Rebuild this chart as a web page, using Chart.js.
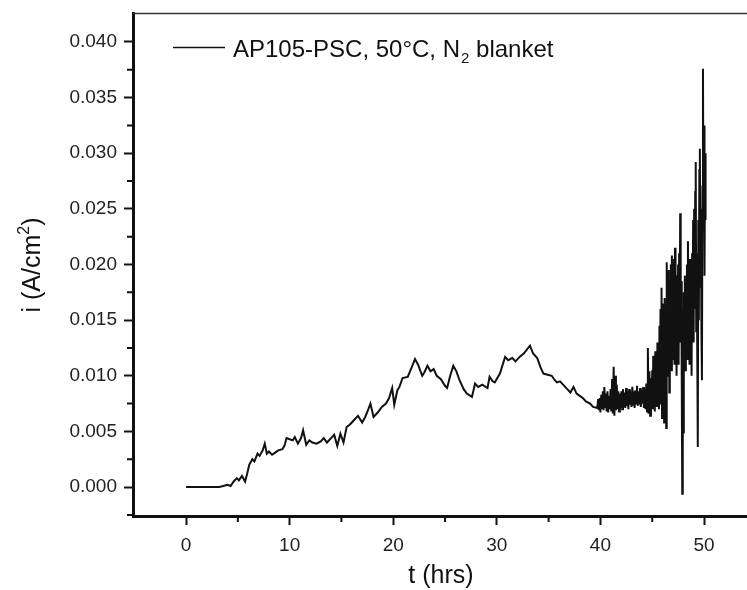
<!DOCTYPE html>
<html>
<head>
<meta charset="utf-8">
<script src="https://cdn.jsdelivr.net/npm/chart.js@4.4.1/dist/chart.umd.min.js"></script>
<style>
html,body{margin:0;padding:0;background:#fff;}
canvas{display:block;}
</style>
</head>
<body>
<canvas id="c" width="747" height="590"></canvas>
<script>
// ---- data ----
const T_HRS = [
 0,1,2,3,3.2,3.6,4.0,4.3,4.6,4.9,5.1,5.4,5.7,5.9,6.1,6.4,6.6,6.9,7.1,7.4,7.6,7.8,8.0,8.3,8.6,8.9,9.3,9.5,9.7,10.0,
 10.3,10.5,10.8,11.1,11.3,11.6,11.9,12.2,12.6,13.0,13.3,13.6,14.0,14.3,14.6,14.9,15.2,15.5,15.8,16.2,16.6,17.0,17.3,17.6,17.8,18.1,18.5,18.9,19.3,19.6,
 19.9,20.1,20.4,20.6,20.9,21.4,21.8,22.1,22.4,22.8,23.0,23.3,23.6,23.9,24.2,24.6,25.0,25.2,25.5,25.8,26.1,26.4,26.8,27.1,27.6,27.9,28.2,28.6,29.1,29.3,
 29.6,29.8,30.3,30.8,31.1,31.5,31.8,32.2,32.6,33.2,33.5,33.9,34.2,34.5,34.9,35.3,35.6,35.8,36.1,36.4,36.8,37.1,37.4,37.7,38.0,38.3,38.6,39.0,39.3,
 39.70,39.78,39.85,39.93,40.00,40.08,40.15,40.23,40.30,40.38,40.45,40.53,40.60,40.68,40.75,40.83,40.90,40.98,41.05,41.13,41.20,41.28,41.35,41.43,41.50,41.58,41.65,41.73,41.80,41.88,
 41.95,42.03,42.10,42.18,42.25,42.33,42.40,42.48,42.55,42.63,42.70,42.78,42.85,42.93,43.00,43.08,43.15,43.23,43.30,43.38,43.45,43.53,43.60,43.68,43.75,43.83,43.90,43.98,44.05,44.13,
 44.20,44.28,44.35,44.43,44.50,44.58,44.65,44.73,44.80,44.88,44.95,
 45.00,45.05,45.10,45.15,45.20,45.25,45.30,45.35,45.40,45.45,45.50,45.55,45.60,45.65,45.70,45.75,45.80,45.85,45.90,45.95,
 46.00,46.05,46.10,46.15,46.20,46.25,46.30,46.35,46.40,46.45,46.50,46.55,46.60,46.65,46.70,46.75,46.80,46.85,46.90,46.95,
 47.00,47.05,47.10,47.15,47.20,47.25,47.30,47.35,47.40,47.45,47.50,47.55,47.60,47.65,47.70,47.75,47.80,47.85,47.90,47.95,
 48.00,48.05,48.10,48.15,48.20,48.25,48.30,48.35,48.40,48.45,48.50,48.55,48.60,48.65,48.70,48.75,48.80,48.85,48.90,48.95,
 49.00,49.05,49.10,49.15,49.20,49.25,49.30,49.35,49.40,49.45,49.50,49.55,49.60,49.65,49.70,49.75,49.80,49.85,49.90,49.95,
 50.00,50.05,50.10,50.15
];
const CURRENT = [
 0,0,0,0,0,0.0001,0.0002,0.0001,0.0005,0.0008,0.0006,0.0010,0.0005,0.0012,0.0020,0.0025,0.0023,0.0030,0.0028,0.0033,0.0039,0.0030,0.0032,0.0029,0.0031,0.0033,0.0034,0.0037,0.0044,0.0043,
 0.0042,0.0045,0.0039,0.0044,0.0051,0.0038,0.0042,0.0040,0.0039,0.0041,0.0044,0.0040,0.0044,0.0047,0.0037,0.0048,0.0040,0.0054,0.0056,0.0060,0.0064,0.0058,0.0063,0.0070,0.0075,0.0063,0.0067,0.0072,0.0075,0.0080,
 0.0089,0.0074,0.0087,0.0090,0.0098,0.0099,0.0108,0.0115,0.0110,0.0100,0.0103,0.0109,0.0104,0.0106,0.0100,0.0097,0.0091,0.0089,0.0100,0.0109,0.0104,0.0096,0.0088,0.0084,0.0081,0.0093,0.0090,0.0092,0.0089,0.0099,
 0.0095,0.0094,0.0102,0.0117,0.0114,0.0116,0.0113,0.0117,0.0120,0.0127,0.0120,0.0116,0.0108,0.0102,0.0101,0.0100,0.0096,0.0094,0.0095,0.0092,0.0088,0.0085,0.0090,0.0084,0.0082,0.0080,0.0077,0.0075,0.0072,
 0.0071,0.0079,0.0069,0.0080,0.0067,0.0083,0.0070,0.0086,0.0069,0.0090,0.0072,0.0084,0.0068,0.0086,0.0067,0.0082,0.0070,0.0088,0.0068,0.0097,0.0066,0.0108,0.0064,0.0100,0.0069,0.0092,0.0070,0.0086,0.0068,0.0084,
 0.0071,0.0086,0.0070,0.0088,0.0072,0.0085,0.0071,0.0089,0.0073,0.0086,0.0070,0.0088,0.0074,0.0085,0.0072,0.0090,0.0074,0.0086,0.0071,0.0087,0.0075,0.0091,0.0073,0.0086,0.0074,0.0089,0.0072,0.0087,0.0075,0.0090,
 0.0071,0.0088,0.0070,0.0093,0.0068,0.0125,0.0066,0.0104,0.0064,0.0098,0.0072,
 0.0105,0.0070,0.0118,0.0075,0.0110,0.0068,0.0122,0.0080,0.0115,0.0072,0.0130,0.0078,0.0125,0.0070,0.0145,0.0085,0.0160,0.0075,0.0179,0.0062,
 0.0150,0.0090,0.0165,0.0058,0.0170,0.0095,0.0160,0.0053,0.0202,0.0110,0.0185,0.0100,0.0195,0.0085,0.0175,0.0120,0.0200,0.0105,0.0208,0.0115,
 0.0180,0.0130,0.0205,0.0110,0.0215,0.0125,0.0190,0.0100,0.0175,0.0120,0.0200,0.0110,0.0210,0.0140,0.0246,0.0130,0.0185,0.0100,-0.0006,0.0160,
 0.0049,0.0175,0.0120,0.0190,0.0105,0.0180,0.0130,0.0200,0.0115,0.0221,0.0125,0.0195,0.0110,0.0205,0.0140,0.0185,0.0100,0.0210,0.0150,0.0240,
 0.0130,0.0250,0.0160,0.0265,0.0292,0.0140,0.0210,0.0120,0.0036,0.0240,0.0150,0.0285,0.0304,0.0180,0.0250,0.0140,0.0096,0.0270,0.0376,0.0230,
 0.0325,0.0190,0.0300,0.0240
];
const X_TICKS = [0, 10, 20, 30, 40, 50];
const X_MINOR = [5, 15, 25, 35, 45];
const Y_TICKS = [0, 0.005, 0.010, 0.015, 0.020, 0.025, 0.030, 0.035, 0.040];
const Y_TICK_LABELS = ['0.000','0.005','0.010','0.015','0.020','0.025','0.030','0.035','0.040'];
const Y_MINOR = [-0.0025, 0.0025, 0.0075, 0.0125, 0.0175, 0.0225, 0.0275, 0.0325, 0.0375];
const SERIES_LABEL = 'AP105-PSC, 50°C, N';
const SERIES_SUB = '2';
const SERIES_TAIL = ' blanket';
const X_TITLE = 't (hrs)';
const Y_TITLE = 'i (A/cm';
const Y_TITLE_SUP = '2';

const FONT = '"Liberation Sans", Arial, sans-serif';

const decor = {
  id: 'decor',
  afterDraw(chart) {
    const ctx = chart.ctx, a = chart.chartArea;
    const xs = chart.scales.x, ys = chart.scales.y;
    ctx.save();
    // top frame line
    ctx.strokeStyle = '#333'; ctx.lineWidth = 1.5;
    ctx.beginPath(); ctx.moveTo(a.left, a.top + 0.5); ctx.lineTo(a.right, a.top + 0.5); ctx.stroke();
    // minor ticks
    ctx.strokeStyle = '#111'; ctx.lineWidth = 2;
    ctx.beginPath();
    X_MINOR.forEach(v => { const p = xs.getPixelForValue(v); ctx.moveTo(p, a.bottom); ctx.lineTo(p, a.bottom + 6); });
    Y_MINOR.forEach(v => { const p = ys.getPixelForValue(v); ctx.moveTo(a.left, p); ctx.lineTo(a.left - 6, p); });
    ctx.stroke();
    // legend
    ctx.strokeStyle = '#111'; ctx.lineWidth = 1.3;
    ctx.beginPath(); ctx.moveTo(173, 47.5); ctx.lineTo(225, 47.5); ctx.stroke();
    ctx.fillStyle = '#111'; ctx.textBaseline = 'alphabetic'; ctx.textAlign = 'left';
    ctx.font = '24px ' + FONT;
    let x = 233;
    ctx.fillText(SERIES_LABEL, x, 56.5); x += ctx.measureText(SERIES_LABEL).width;
    ctx.font = '15px ' + FONT;
    ctx.fillText(SERIES_SUB, x + 1, 63); x += ctx.measureText(SERIES_SUB).width + 1;
    ctx.font = '24px ' + FONT;
    ctx.fillText(SERIES_TAIL, x, 56.5);
    // x title
    ctx.textAlign = 'center';
    ctx.font = '25px ' + FONT;
    ctx.fillText(X_TITLE, 441, 583);
    // y title (rotated)
    ctx.translate(40, 265);
    ctx.rotate(-Math.PI / 2);
    ctx.font = '25px ' + FONT;
    const w1 = ctx.measureText(Y_TITLE).width;
    ctx.font = '16px ' + FONT;
    const w2 = ctx.measureText(Y_TITLE_SUP).width;
    ctx.font = '25px ' + FONT;
    const w3 = ctx.measureText(')').width;
    let sx = -(w1 + w2 + w3) / 2;
    ctx.textAlign = 'left';
    ctx.fillText(Y_TITLE, sx, 0); sx += w1;
    ctx.font = '16px ' + FONT;
    ctx.fillText(Y_TITLE_SUP, sx, -11); sx += w2;
    ctx.font = '25px ' + FONT;
    ctx.fillText(')', sx, 0);
    ctx.restore();
  }
};

new Chart(document.getElementById('c'), {
  type: 'line',
  data: {
    datasets: [{
      data: T_HRS.map((t, k) => ({ x: t, y: CURRENT[k] })),
      borderColor: '#111',
      borderWidth: 2,
      pointRadius: 0,
      tension: 0,
      fill: false
    }]
  },
  options: {
    responsive: false,
    animation: false,
    devicePixelRatio: 1,
    layout: { padding: { top: 13, right: 0, left: 0, bottom: 0 } },
    plugins: { legend: { display: false }, tooltip: { enabled: false } },
    scales: {
      x: {
        type: 'linear', min: -5.12, max: 54.15,
        afterBuildTicks: s => { s.ticks = X_TICKS.map(v => ({ value: v })); },
        afterFit: s => { s.height = 74; s.paddingLeft = 0; s.paddingRight = 0; },
        ticks: { color: '#222', font: { family: FONT, size: 19 }, padding: 9, maxRotation: 0, autoSkip: false,
                 callback: v => String(v) },
        grid: { drawOnChartArea: false, drawTicks: true, tickLength: 9, tickWidth: 2, tickColor: '#111' },
        border: { display: true, color: '#111', width: 3 }
      },
      y: {
        type: 'linear', min: -0.0026, max: 0.0426,
        afterBuildTicks: s => { s.ticks = Y_TICKS.map(v => ({ value: v })); },
        afterFit: s => { s.width = 133; s.paddingTop = 0; s.paddingBottom = 0; },
        ticks: { color: '#222', font: { family: FONT, size: 19 }, padding: 7, autoSkip: false,
                 callback: (v) => { const k = Y_TICKS.findIndex(t => Math.abs(t - v) < 1e-9); return k >= 0 ? Y_TICK_LABELS[k] : ''; } },
        grid: { drawOnChartArea: false, drawTicks: true, tickLength: 9, tickWidth: 2, tickColor: '#111' },
        border: { display: true, color: '#111', width: 3 }
      }
    }
  },
  plugins: [decor]
});
</script>
</body>
</html>
